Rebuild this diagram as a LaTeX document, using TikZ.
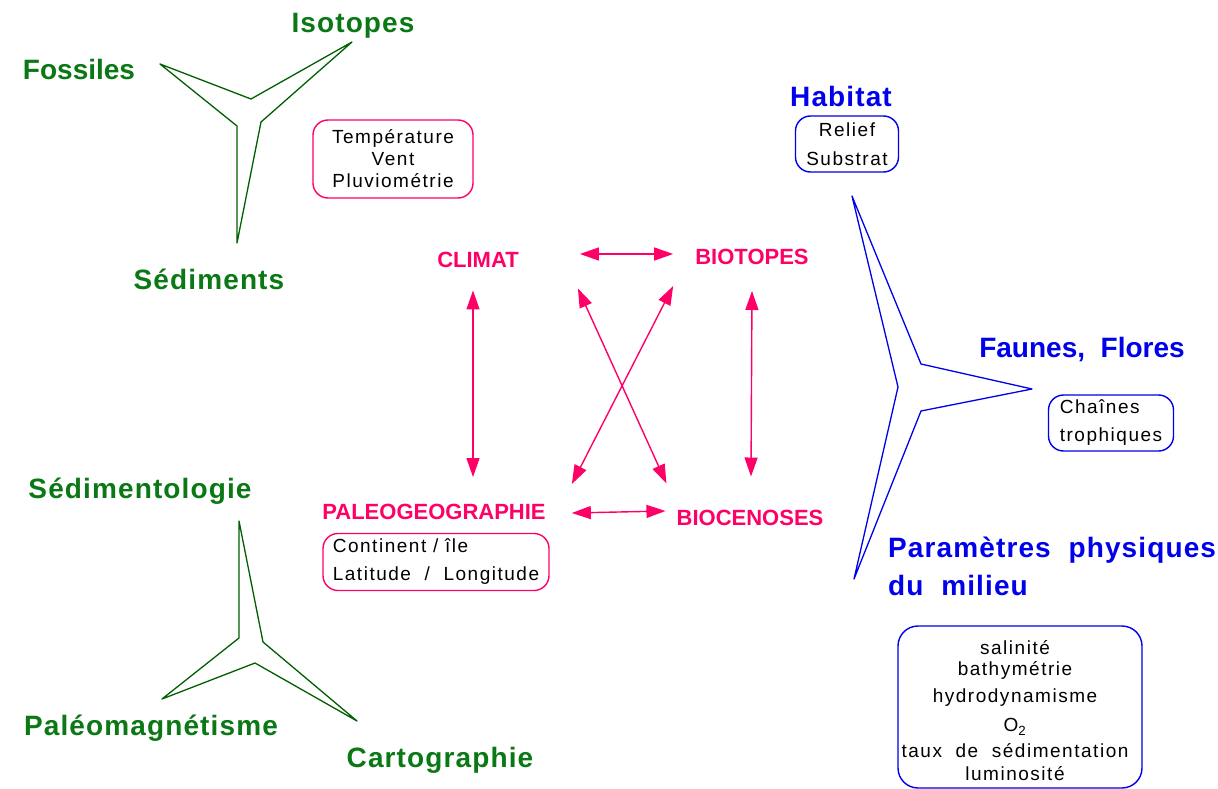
\documentclass[tikz,border=0pt]{standalone}
\usepackage{fontspec}
\setmainfont{Liberation Sans}
\newfontfamily\espace{Liberation Sans}[LetterSpace=8]
\newfontfamily\espacegras{Liberation Sans}[LetterSpace=4]
\usetikzlibrary{arrows.meta}
\definecolor{vert}{RGB}{10,120,20}
\definecolor{vertfonce}{RGB}{0,95,0}
\definecolor{rose}{RGB}{255,0,102}
\definecolor{bleu}{RGB}{0,0,235}

\begin{document}
\begin{tikzpicture}[line cap=round,line join=round,x=1pt,y=-1pt,
  vertlbl/.style={text=vert,inner sep=0pt,font=\espacegras\fontsize{28}{30}\selectfont\bfseries},
  bleulbl/.style={text=bleu,inner sep=0pt,font=\espacegras\fontsize{28}{30}\selectfont\bfseries},
  roselbl/.style={text=rose,inner sep=0pt,font=\fontsize{22}{24}\selectfont\bfseries},
  boite/.style={draw,line width=1.4pt,rounded corners=15pt,inner sep=0pt,font=\espace\fontsize{19}{22}\selectfont},
  fleche/.style={rose,line width=1.4pt,{Triangle[length=19pt,width=13pt]}-{Triangle[length=19pt,width=13pt]}},
  etoile/.style={line width=1.3pt}]
\useasboundingbox (0,0) rectangle (1218,789);
% geologie
\draw[etoile,vertfonce] (160,64) -- (251,99) -- (352,42) -- (261,122) -- (237,243) -- (237,126) -- cycle;
\node[vertlbl,font=\fontsize{28}{30}\selectfont\bfseries] (fossiles) at (79,69) {Fossiles};
\node[vertlbl] (isotopes) at (353,26) {Isotopes};
\node[vertlbl] (sediments) at (209,279) {Sédiments};
\node[boite,rose,text=black,minimum width=160pt,minimum height=78pt,align=center] (climbox) at (393,159) {Température\\Vent\\Pluviométrie};
% geographie
\draw[etoile,vertfonce] (239,521) -- (263,642) -- (357,721) -- (255,663) -- (162,699) -- (239,638) -- cycle;
\node[vertlbl] (sedimento) at (140,491) {Sédimentologie};
\node[vertlbl] (paleomag) at (151,728) {Paléomagnétisme};
\node[vertlbl] (carto) at (440,760) {Cartographie};
\node[boite,rose,text=black,minimum width=226pt,minimum height=57pt,align=left,font=\espace\fontsize{19}{28}\selectfont] (geobox) at (436,562) {Continent / île\\Latitude\ \ /\ \ Longitude};
% les quatre poles
\node[roselbl] (climat) at (478,259.5) {CLIMAT};
\node[roselbl] (biotopes) at (752,257) {BIOTOPES};
\node[roselbl] (paleo) at (434,512) {PALEOGEOGRAPHIE};
\node[roselbl] (biocenoses) at (750,517.5) {BIOCENOSES};
\draw[fleche] ([xshift=61pt,yshift=5.5pt]climat.east) -- ([xshift=-22pt,yshift=3pt]biotopes.west);
\draw[fleche] ([xshift=-5pt,yshift=-23pt]climat.south) -- ([xshift=39pt,yshift=27pt]paleo.north);
\draw[fleche] ([yshift=-26pt]biotopes.south) -- ([xshift=1pt,yshift=33pt]biocenoses.north);
\draw[fleche] ([xshift=59pt,yshift=-21pt]climat.south east) -- ([xshift=-10pt,yshift=26pt]biocenoses.north west);
\draw[fleche] ([xshift=-22pt,yshift=-21pt]biotopes.south west) -- ([xshift=26pt,yshift=20pt]paleo.north east);
\draw[fleche] ([xshift=26pt,yshift=-1pt]paleo.east) -- ([xshift=-11pt,yshift=6.5pt]biocenoses.west);
% milieu
\draw[etoile,bleu] (852,196) -- (921,364) -- (1032,389) -- (921,411) -- (854,579) -- (898,387) -- cycle;
\node[bleulbl] (habitat) at (841,96) {Habitat};
\node[boite,bleu,text=black,minimum width=103pt,minimum height=56pt,align=center,font=\espace\fontsize{19}{29}\selectfont] (habbox) at (847,144) {Relief\\Substrat};
\node[bleulbl,font=\fontsize{28}{30}\selectfont\bfseries] (faunes) at (1082,350) {Faunes,\ \ Flores};
\node[boite,bleu,text=black,minimum width=125pt,minimum height=56pt,align=left,font=\espace\fontsize{19}{28}\selectfont] (faunbox) at (1111,423) {Chaînes\\trophiques};
\node[bleulbl,anchor=west,align=left,font=\espacegras\fontsize{28}{38}\selectfont\bfseries] (param) at (888,566) {Paramètres\ \ physiques\\du\ \ milieu};
\node[boite,bleu,text=black,rounded corners=20pt,minimum width=244pt,minimum height=162pt,align=center] (parambox) at (1020,707) {\hspace*{-10pt}\begin{tabular}{@{}c@{}}\rule{0pt}{28pt}salinité\\[-1pt]bathymétrie\\[5pt]hydrodynamisme\\[7pt]O\textsubscript{2}\\[4pt]taux\ \ de\ \ sédimentation\\[1pt]luminosité\end{tabular}};
\end{tikzpicture}
\end{document}
